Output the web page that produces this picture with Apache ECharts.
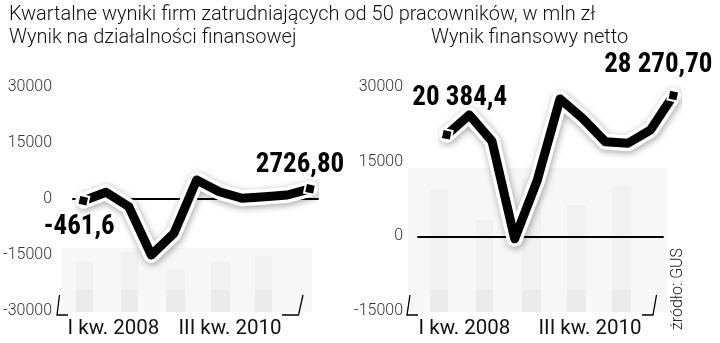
<!DOCTYPE html>
<html><head><meta charset="utf-8">
<script src="https://cdn.jsdelivr.net/npm/echarts@6/dist/echarts.min.js"></script>
<style>html,body{margin:0;padding:0;background:#fff}#c{width:720px;height:343px}</style>
</head><body><div id="c"></div><script>
// ---- data ----
const quarters = ['I kw. 2008','II kw. 2008','III kw. 2008','IV kw. 2008','I kw. 2009','II kw. 2009','III kw. 2009','IV kw. 2009','I kw. 2010','II kw. 2010','III kw. 2010'];
const finValues = [-461.6, 1800, -2000, -15000, -9200, 5100, 1950, 200, 600, 1070, 2726.8];
const netValues = [20384.4, 24400, 19100, -500, 11300, 27600, 23700, 19000, 18700, 21400, 28270.7];
const finEndLabels = ['-461,6', '2726,80'];
const netEndLabels = ['20 384,4', '28 270,70'];
const rangeLabels = ['I kw. 2008', 'III kw. 2010'];
const titleMain = 'Kwartalne wyniki firm zatrudniających od 50 pracowników, w mln zł';
const titleLeft = 'Wynik na działalności finansowej';
const titleRight = 'Wynik finansowy netto';
const sourceText = 'źródło: GUS';
const finRange = {min: -30000, max: 30000, interval: 15000};
const netRange = {min: -15000, max: 30000, interval: 15000};

// ---- styling ----
const LIGHT = 'Roboto, "Open Sans", sans-serif';
const COND = '"Liberation Sans Narrow", "Roboto Condensed", "DejaVu Sans Condensed", sans-serif';

function endData(values, labels, offs) {
  const last = values.length - 1;
  return values.map((v, i) => {
    if (i === 0 || i === last) {
      const k = i === 0 ? 0 : 1;
      return {
        value: v, symbol: 'rect', symbolSize: 10, symbolRotate: -12,
        itemStyle: {color: '#000', borderColor: '#fff', borderWidth: 2},
        label: {show: true, formatter: labels[k], position: 'inside', align: 'center', verticalAlign: 'middle',
          offset: offs[k], fontFamily: COND, fontWeight: 'bold', fontSize: 27, color: '#000'}
      };
    }
    return {value: v, symbol: 'none'};
  });
}

function halo(xi, yi, values) {
  return {type: 'line', xAxisIndex: xi, yAxisIndex: yi, data: values, symbol: 'none', silent: true, z: 3,
    lineStyle: {color: '#fff', width: 16, join: 'round', cap: 'round',
      shadowColor: 'rgba(0,0,0,0.35)', shadowBlur: 7, shadowOffsetX: 1, shadowOffsetY: 2},
    animation: false};
}
function main(xi, yi, values, labels, offs) {
  return {type: 'line', xAxisIndex: xi, yAxisIndex: yi, data: endData(values, labels, offs),
    showSymbol: true, showAllSymbol: true, z: 4,
    lineStyle: {color: '#000', width: 9, join: 'round', cap: 'butt'}, animation: false};
}

const axisLabelStyle = {color: '#333', fontSize: 16, fontFamily: LIGHT, fontWeight: 300,
  formatter: v => String(v)};
function axisX(g) {
  return {gridIndex: g, type: 'category', data: quarters,
    axisLine: {onZero: true, lineStyle: {color: '#000', width: 2}},
    axisTick: {show: false}, axisLabel: {show: false}, splitLine: {show: false}};
}
function dataX(g) { return {gridIndex: g, type: 'category', data: quarters, boundaryGap: false, show: false}; }
function axisY(g, r, margin) {
  return {gridIndex: g, type: 'value', min: r.min, max: r.max, interval: r.interval,
    axisLine: {show: false}, axisTick: {show: false}, splitLine: {show: false},
    axisLabel: Object.assign({margin: margin}, axisLabelStyle)};
}
function dataY(g, r) { return {gridIndex: g, type: 'value', min: r.min, max: r.max, show: false, splitLine: {show: false}}; }

// decorative ghost columns
function ghost(x0, x1, yTop, yBot, cols) {
  const els = [{type: 'rect', shape: {x: x0, y: yTop, width: x1 - x0, height: yBot - yTop}, style: {fill: '#f7f7f7'}, z: -10, silent: true}];
  cols.forEach(c => {
    els.push({type: 'rect', shape: {x: c[0], y: c[1], width: c[2], height: yBot - c[1]}, style: {fill: '#f1f1f1'}, z: -9, silent: true});
    els.push({type: 'rect', shape: {x: c[0], y: yBot - 22, width: c[2], height: 22}, style: {fill: '#ebebeb'}, z: -8, silent: true});
  });
  return els;
}
function bracket(pl, pr) {
  return [
    {type: 'polyline', shape: {points: pl}, style: {stroke: '#000', lineWidth: 1.3, fill: null}, silent: true},
    {type: 'polyline', shape: {points: pr}, style: {stroke: '#000', lineWidth: 1.3, fill: null}, silent: true}
  ];
}
function rangeText(x, y, t) {
  return {type: 'text', x: x, y: y, silent: true,
    style: {text: t, fontFamily: LIGHT, fontSize: 20.5, fill: '#111', align: 'center', verticalAlign: 'middle'}};
}

const chart = echarts.init(document.getElementById('c'), null, {renderer: 'canvas'});
chart.setOption({
  backgroundColor: '#fff',
  animation: false,
  title: [
    {text: titleMain, left: 4, top: 0, textStyle: {fontFamily: LIGHT, fontWeight: 300, fontSize: 20, color: '#111'}},
    {text: titleLeft, left: 4, top: 23, textStyle: {fontFamily: LIGHT, fontWeight: 300, fontSize: 20, color: '#111'}},
    {text: titleRight, left: 426, top: 23, textStyle: {fontFamily: LIGHT, fontWeight: 300, fontSize: 20, color: '#111'}}
  ],
  grid: [
    {left: 73, width: 245, top: 87, height: 224},
    {left: 83.3, width: 226.7, top: 87, height: 224},
    {left: 418, width: 245, top: 87, height: 224},
    {left: 446.7, width: 226.6, top: 87, height: 224}
  ],
  xAxis: [axisX(0), dataX(1), axisX(2), dataX(3)],
  yAxis: [axisY(0, finRange, 21), dataY(1, finRange), axisY(2, netRange, 15), dataY(3, netRange)],
  series: [
    halo(1, 1, finValues),
    main(1, 1, finValues, finEndLabels, [[-4, 27], [-10, -24]]),
    halo(3, 3, netValues),
    main(3, 3, netValues, netEndLabels, [[13, -37], [-15, -30]])
  ],
  graphic: [].concat(
    ghost(62, 312, 248, 312, [[76, 262, 17], [121, 252, 17], [166, 270, 19], [211, 262, 19], [255, 256, 17]]),
    ghost(408, 668, 168, 312, [[430, 190, 18], [476, 220, 17], [522, 178, 19], [567, 205, 19], [612, 186, 19]]),
    bracket([[59.5, 295], [57, 315], [68, 315]], [[282, 315], [298.5, 315], [303, 295]]),
    bracket([[410, 295], [407, 315], [418, 315]], [[642, 315], [653, 315], [656.5, 295]]),
    [rangeText(113.5, 329, rangeLabels[0]), rangeText(230, 329, rangeLabels[1]),
     rangeText(464.5, 329, rangeLabels[0]), rangeText(590, 329, rangeLabels[1]),
     {type: 'text', x: 678, y: 289, rotation: Math.PI / 2, silent: true,
      style: {text: sourceText, fontFamily: LIGHT, fontWeight: 300, fontSize: 16, fill: '#222', align: 'center', verticalAlign: 'middle'}}]
  )
});
</script></body></html>
